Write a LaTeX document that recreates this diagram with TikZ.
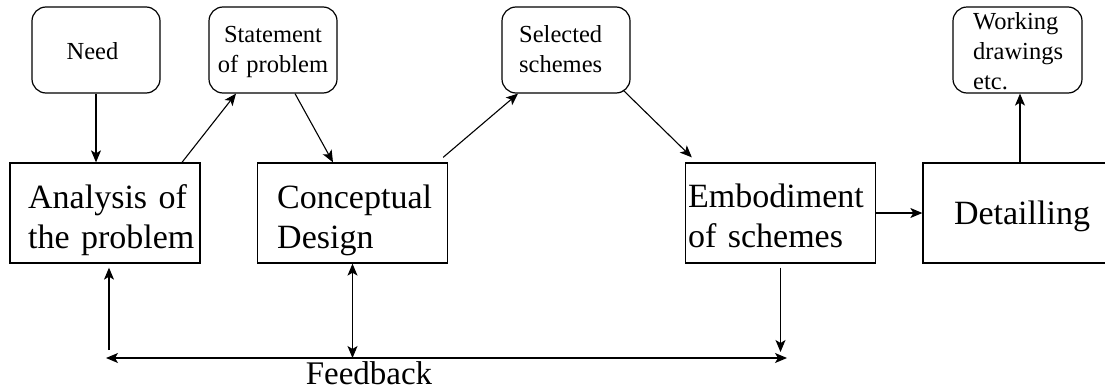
\documentclass[tikz,border=0pt]{standalone}
\usepackage{fontspec}
\setmainfont{Liberation Serif}
\usetikzlibrary{arrows.meta,calc}
\begin{document}
\begin{tikzpicture}[x=1pt,y=-1pt,
  bigbox/.style={draw,line width=1.3pt,minimum width=190pt,minimum height=100pt,inner sep=0pt},
  smallbox/.style={draw,line width=1.2pt,rounded corners=14pt,minimum width=128pt,minimum height=86pt,inner sep=0pt},
  bigtext/.style={font=\fontsize{34}{40}\selectfont,inner sep=0pt,text width=185pt,align=left,anchor=base west},
  smalltext/.style={font=\fontsize{24.5}{30}\selectfont,inner sep=0pt,text width=125pt,align=left,anchor=base west},
  arr/.style={line width=1.1pt,-{Stealth[length=12pt,width=10pt,inset=3pt]}},
  darr/.style={line width=1.1pt,{Stealth[length=12pt,width=10pt,inset=3pt]}-{Stealth[length=12pt,width=10pt,inset=3pt]}}]
\useasboundingbox (0,0) rectangle (1105,391);
\clip (0,0) rectangle (1105,391);
% top rounded boxes
\node[smallbox] (need) at (96,50) {};
\node[smallbox] (stm) at (273,50) {};
\node[smallbox] (sel) at (566,50) {};
\node[smallbox,minimum width=129pt] (work) at (1017.5,50) {};
% main boxes
\node[bigbox] (ana) at (105,213) {};
\node[bigbox] (con) at (352.5,213) {};
\node[bigbox] (emb) at (780.5,213) {};
\node[bigbox,minimum width=194pt] (det) at (1020,213) {};
% texts
\node[smalltext,text width=60pt,align=center,anchor=base] (needt) at (92.5,59) {Need};
\node[smalltext,text width=130pt,align=center,anchor=base] (stmt) at (273,42) {Statement\\of problem};
\node[smalltext] (selt) at (519,42) {Selected\\schemes};
\node[smalltext] (workt) at (973,29) {Working\\drawings\\etc.};
\node[bigtext] (anat) at (28,208) {Analysis of\\the problem};
\node[bigtext] (cont) at (277,208) {Conceptual\\Design};
\node[bigtext] (embt) at (688,207) {Embodiment\\of schemes};
\node[bigtext,text width=190pt,align=center,anchor=base] (dett) at (1022,224) {Detailling};
\node[font=\fontsize{33}{40}\selectfont,inner sep=0pt,anchor=base] (fbt) at (369,384) {Feedback};
% connectors
\draw[arr] (need.south) -- (need.south |- ana.north);
\draw[arr] ($(ana.north)+(77,0)$) -- ($(stm.south)+(-37,0)$);
\draw[arr] ($(stm.south)+(22,0)$) -- ($(con.north)+(-19.5,0)$);
\draw[arr] ($(con.north east)+(-5,-5)$) -- ($(sel.south)+(-48,0)$);
\draw[arr] ($(sel.south east)+(-7,-3)$) -- ($(emb.north west)+(7,-5)$);
\draw[arr] (emb.east) -- (det.west);
\draw[arr] (det.north) -- (det.north |- work.south);
% feedback
\coordinate (fbl) at (106,358);
\coordinate (fbr) at (787,358);
\draw[darr] (fbl) -- (fbr);
\draw[darr] (con.south) -- (con.south |- fbl);
\draw[arr] ($(fbl)+(3,-8)$) -- ($(ana.south)+(4,4)$);
\draw[arr] ($(emb.south)+(0,4)$) -- ($(emb.south |- fbr)+(0,-6)$);
\end{tikzpicture}
\end{document}
